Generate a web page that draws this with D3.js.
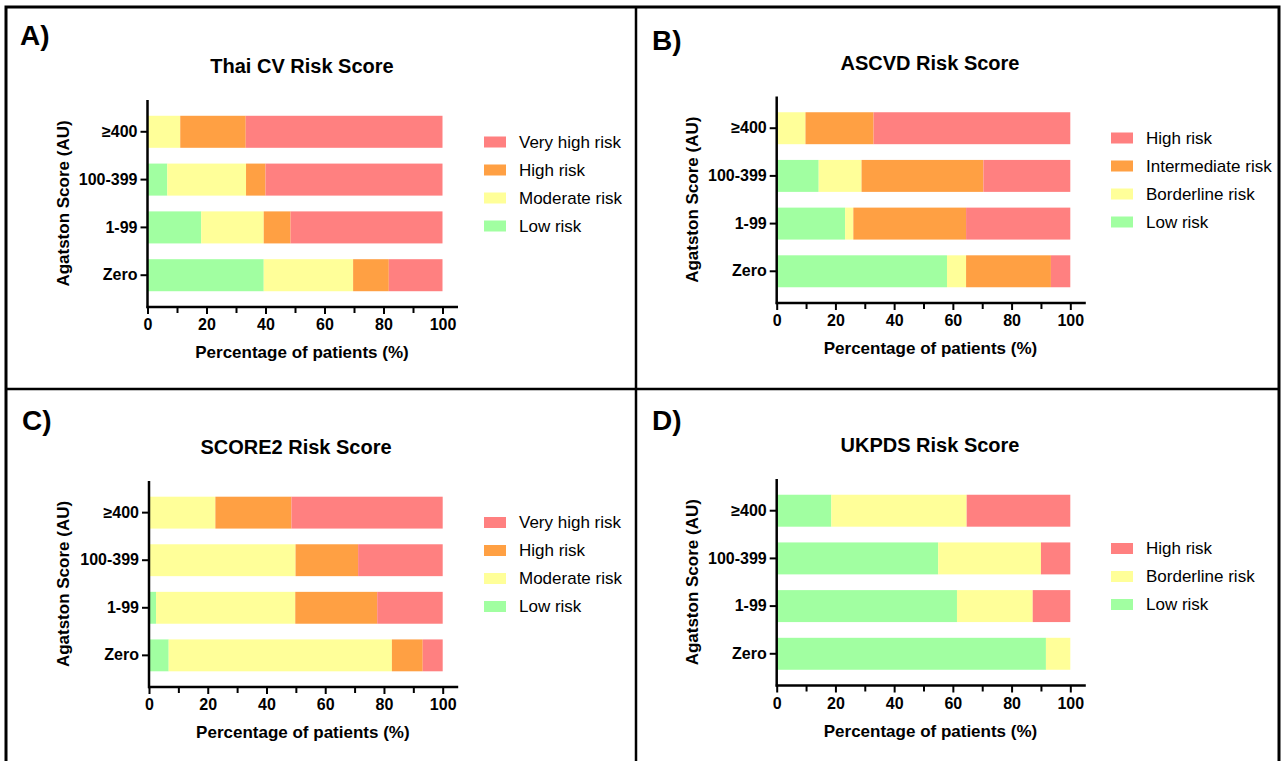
<!DOCTYPE html>
<html>
<head>
<meta charset="utf-8">
<script src="https://cdn.jsdelivr.net/npm/d3@7"></script>
<style>
  body { margin: 0; background: #fff; }
  svg { display: block; font-family: "Liberation Sans", Arial, sans-serif; }
</style>
</head>
<body>
<div id="chart"></div>
<script>
// categories, bottom to top
var categories = ["Zero", "1-99", "100-399", "\u2265400"];

// A) Thai CV
var thaiLow = [39.4, 18.2, 6.7, 0];
var thaiModerate = [30.3, 21.2, 26.7, 11.1];
var thaiHigh = [12.1, 9.1, 6.6, 22.2];
var thaiVeryHigh = [18.2, 51.5, 60.0, 66.7];

// B) ASCVD
var ascvdLow = [58.0, 23.3, 14.3, 0];
var ascvdBorderline = [6.5, 2.8, 14.6, 9.8];
var ascvdIntermediate = [28.9, 38.4, 41.5, 23.2];
var ascvdHigh = [6.6, 35.5, 29.6, 67.0];

// C) SCORE2
var score2Low = [6.7, 2.4, 0, 0];
var score2Moderate = [76.0, 47.4, 49.9, 22.6];
var score2High = [10.5, 27.9, 21.3, 25.9];
var score2VeryHigh = [6.8, 22.3, 28.8, 51.5];

// D) UKPDS
var ukpdsLow = [91.7, 61.4, 55.0, 18.6];
var ukpdsBorderline = [8.3, 25.8, 35.0, 46.1];
var ukpdsHigh = [0, 12.8, 10.0, 35.3];

var xTicks = [0, 10, 20, 30, 40, 50, 60, 70, 80, 90, 100];

var colGreen = "#a1ffa1", colYellow = "#ffff99", colOrange = "#ffa043", colRed = "#ff8080";

var panels = [
  { label: "A)", title: "Thai CV Risk Score",
    series: [["Low risk", thaiLow, colGreen], ["Moderate risk", thaiModerate, colYellow],
             ["High risk", thaiHigh, colOrange], ["Very high risk", thaiVeryHigh, colRed]],
    lx: 20, ly: 45, tx: 302, ty: 73, x0: 147.5, x1: 442.5, y0: 100, y1: 307, yt: 63,
    legX: 484, legY: 142 },
  { label: "B)", title: "ASCVD Risk Score",
    series: [["Low risk", ascvdLow, colGreen], ["Borderline risk", ascvdBorderline, colYellow],
             ["Intermediate risk", ascvdIntermediate, colOrange], ["High risk", ascvdHigh, colRed]],
    lx: 652, ly: 50, tx: 930, ty: 70, x0: 776.7, x1: 1070.3, y0: 96.5, y1: 303, yt: 692,
    legX: 1111, legY: 138 },
  { label: "C)", title: "SCORE2 Risk Score",
    series: [["Low risk", score2Low, colGreen], ["Moderate risk", score2Moderate, colYellow],
             ["High risk", score2High, colOrange], ["Very high risk", score2VeryHigh, colRed]],
    lx: 22, ly: 430, tx: 296, ty: 454, x0: 149, x1: 442.7, y0: 481, y1: 687, yt: 63,
    legX: 484, legY: 522.5 },
  { label: "D)", title: "UKPDS Risk Score",
    series: [["Low risk", ukpdsLow, colGreen], ["Borderline risk", ukpdsBorderline, colYellow],
             ["High risk", ukpdsHigh, colRed]],
    lx: 652, ly: 430, tx: 930, ty: 452, x0: 776.7, x1: 1070.3, y0: 479, y1: 685.5, yt: 692,
    legX: 1111, legY: 548.5 }
];

var W = 1282, H = 761;
var svg = d3.select("#chart").append("svg").attr("width", W).attr("height", H);

// frame
svg.append("rect").attr("x", 6).attr("y", 7).attr("width", 1273).attr("height", 770)
  .attr("fill", "none").attr("stroke", "#000").attr("stroke-width", 3);
svg.append("line").attr("x1", 636).attr("x2", 636).attr("y1", 7).attr("y2", H)
  .attr("stroke", "#000").attr("stroke-width", 2.5);
svg.append("line").attr("x1", 6).attr("x2", 1279).attr("y1", 389).attr("y2", 389)
  .attr("stroke", "#000").attr("stroke-width", 2.5);

panels.forEach(function(p) {
  var g = svg.append("g");

  var x = d3.scaleLinear().domain([0, 100]).range([p.x0, p.x1]);
  var y = d3.scaleBand().domain(categories.slice().reverse())
    .range([p.y0, p.y1]).paddingInner(0.33).paddingOuter(0.33);

  var rows = categories.map(function(c, i) {
    var r = { cat: c };
    p.series.forEach(function(s) { r[s[0]] = s[1][i]; });
    return r;
  });
  var keys = p.series.map(function(s) { return s[0]; });
  var stack = d3.stack().keys(keys)(rows);

  g.selectAll("g.layer").data(stack).enter().append("g")
    .attr("fill", function(d, i) { return p.series[i][2]; })
    .selectAll("rect").data(function(d) { return d; }).enter().append("rect")
    .attr("x", function(d) { return x(d[0]); })
    .attr("width", function(d) { return Math.max(0, x(d[1]) - x(d[0])); })
    .attr("y", function(d) { return y(d.data.cat); })
    .attr("height", y.bandwidth());

  // x axis
  var xAxis = d3.axisBottom(x).tickValues(xTicks)
    .tickFormat(function(d) { return d % 20 === 0 ? d : ""; })
    .tickSize(7).tickSizeOuter(0).tickPadding(5);
  var gx = g.append("g").attr("transform", "translate(0," + p.y1 + ")").call(xAxis);
  gx.select(".domain").remove();
  gx.selectAll(".tick line").attr("stroke", "#000").attr("stroke-width", 2)
    .attr("y2", function(d) { return d % 20 === 0 ? 7 : 6; });
  gx.selectAll(".tick text").attr("font-size", 16).attr("font-weight", "bold")
    .attr("fill", "#000").attr("font-family", "Liberation Sans, Arial, sans-serif");
  g.append("line").attr("x1", p.x0 - 1).attr("x2", p.x1 + 15.5)
    .attr("y1", p.y1).attr("y2", p.y1).attr("stroke", "#000").attr("stroke-width", 2.5);

  // y axis
  var yAxis = d3.axisLeft(y).tickSize(7).tickSizeOuter(0).tickPadding(3);
  var gy = g.append("g").attr("transform", "translate(" + p.x0 + ",0)").call(yAxis);
  gy.select(".domain").remove();
  gy.selectAll(".tick line").attr("stroke", "#000").attr("stroke-width", 2);
  gy.selectAll(".tick text").attr("font-size", 16).attr("font-weight", "bold")
    .attr("fill", "#000").attr("font-family", "Liberation Sans, Arial, sans-serif");
  g.append("line").attr("x1", p.x0).attr("x2", p.x0)
    .attr("y1", p.y0).attr("y2", p.y1 + 1.2).attr("stroke", "#000").attr("stroke-width", 2.5);

  // texts
  g.append("text").attr("x", p.lx).attr("y", p.ly).attr("font-size", 28)
    .attr("font-weight", "bold").text(p.label);
  g.append("text").attr("x", p.tx).attr("y", p.ty).attr("text-anchor", "middle")
    .attr("font-size", 20).attr("font-weight", "bold").text(p.title);
  g.append("text").attr("x", (p.x0 + p.x1) / 2 + 7).attr("y", p.y1 + 51)
    .attr("text-anchor", "middle").attr("font-size", 17).attr("font-weight", "bold")
    .text("Percentage of patients (%)");
  g.append("text")
    .attr("transform", "translate(" + (p.yt + 6) + "," + ((p.y0 + p.y1) / 2) + ") rotate(-90)")
    .attr("text-anchor", "middle").attr("font-size", 17).attr("font-weight", "bold")
    .text("Agatston Score (AU)");

  // legend, highest risk on top
  var leg = p.series.slice().reverse();
  var lg = g.selectAll("g.leg").data(leg).enter().append("g")
    .attr("transform", function(d, i) { return "translate(" + p.legX + "," + (p.legY + i * 28) + ")"; });
  lg.append("rect").attr("x", 0).attr("y", -5.5).attr("width", 22).attr("height", 11)
    .attr("fill", function(d) { return d[2]; });
  lg.append("text").attr("x", 35).attr("y", 0).attr("dy", "0.35em")
    .attr("font-size", 17).text(function(d) { return d[0]; });
});
</script>
</body>
</html>
